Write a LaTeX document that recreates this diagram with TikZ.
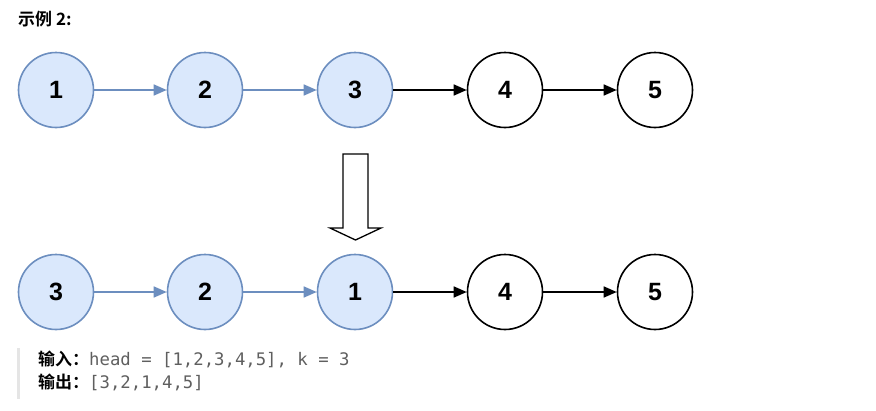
\documentclass[tikz,border=0pt]{standalone}
\usepackage{fontspec}
\setmainfont{Liberation Sans}
\setmonofont{DejaVu Sans Mono}
\newfontfamily\cjk{Noto Sans CJK SC}[BoldFont={Noto Sans CJK SC Bold}]
\usetikzlibrary{arrows.meta}
\definecolor{bfill}{HTML}{DAE8FC}
\definecolor{bline}{HTML}{6C8EBF}
\definecolor{codegray}{HTML}{5F5F5F}
\definecolor{bar}{HTML}{E5E5E5}
\begin{document}
\begin{tikzpicture}[x=1pt,y=-1pt,
  bnode/.style={circle,draw=bline,fill=bfill,line width=1.6pt,minimum size=75pt,inner sep=0pt,font=\fontsize{25}{25}\selectfont\bfseries},
  wnode/.style={circle,draw=black,fill=white,line width=1.6pt,minimum size=75pt,inner sep=0pt,font=\fontsize{25}{25}\selectfont\bfseries},
  barrow/.style={draw=bline,line width=1.6pt,-{Triangle[length=13pt,width=11pt]}},
  karrow/.style={draw=black,line width=1.6pt,-{Triangle[length=13pt,width=11pt]}}]
\useasboundingbox (0,0) rectangle (876,410);
\node[anchor=west,inner sep=0pt,font=\cjk\fontsize{17}{17}\selectfont\bfseries] (title) at (18,19) {示例 2:};
% row 1
\node[bnode] (a1) at (56,90) {1};
\node[bnode] (a2) at (205,90) {2};
\node[bnode] (a3) at (355,90) {3};
\node[wnode] (a4) at (505,90) {4};
\node[wnode] (a5) at (655,90) {5};
\draw[barrow] (a1) -- (a2);
\draw[barrow] (a2) -- (a3);
\draw[karrow] (a3) -- (a4);
\draw[karrow] (a4) -- (a5);
% big hollow arrow
\draw[line width=1.3pt,line join=miter] (343,154) -- (368,154) -- (368,228) -- (381,228) -- (355.5,240) -- (330,228) -- (343,228) -- cycle;
% row 2
\node[bnode] (b1) at (56,292) {3};
\node[bnode] (b2) at (205,292) {2};
\node[bnode] (b3) at (355,292) {1};
\node[wnode] (b4) at (505,292) {4};
\node[wnode] (b5) at (655,292) {5};
\draw[barrow] (b1) -- (b2);
\draw[barrow] (b2) -- (b3);
\draw[karrow] (b3) -- (b4);
\draw[karrow] (b4) -- (b5);
% example text
\fill[bar] (17,348) rectangle (20,399);
\node[anchor=base west,inner sep=0pt] (in) at (38,365) {{\cjk\fontsize{17}{17}\selectfont\bfseries 输入：}\textcolor{codegray}{\ttfamily\fontsize{17.3}{17}\selectfont head = [1,2,3,4,5], k = 3}};
\node[anchor=base west,inner sep=0pt] (out) at (38,388) {{\cjk\fontsize{17}{17}\selectfont\bfseries 输出：}\textcolor{codegray}{\ttfamily\fontsize{17.3}{17}\selectfont [3,2,1,4,5]}};
\end{tikzpicture}
\end{document}
